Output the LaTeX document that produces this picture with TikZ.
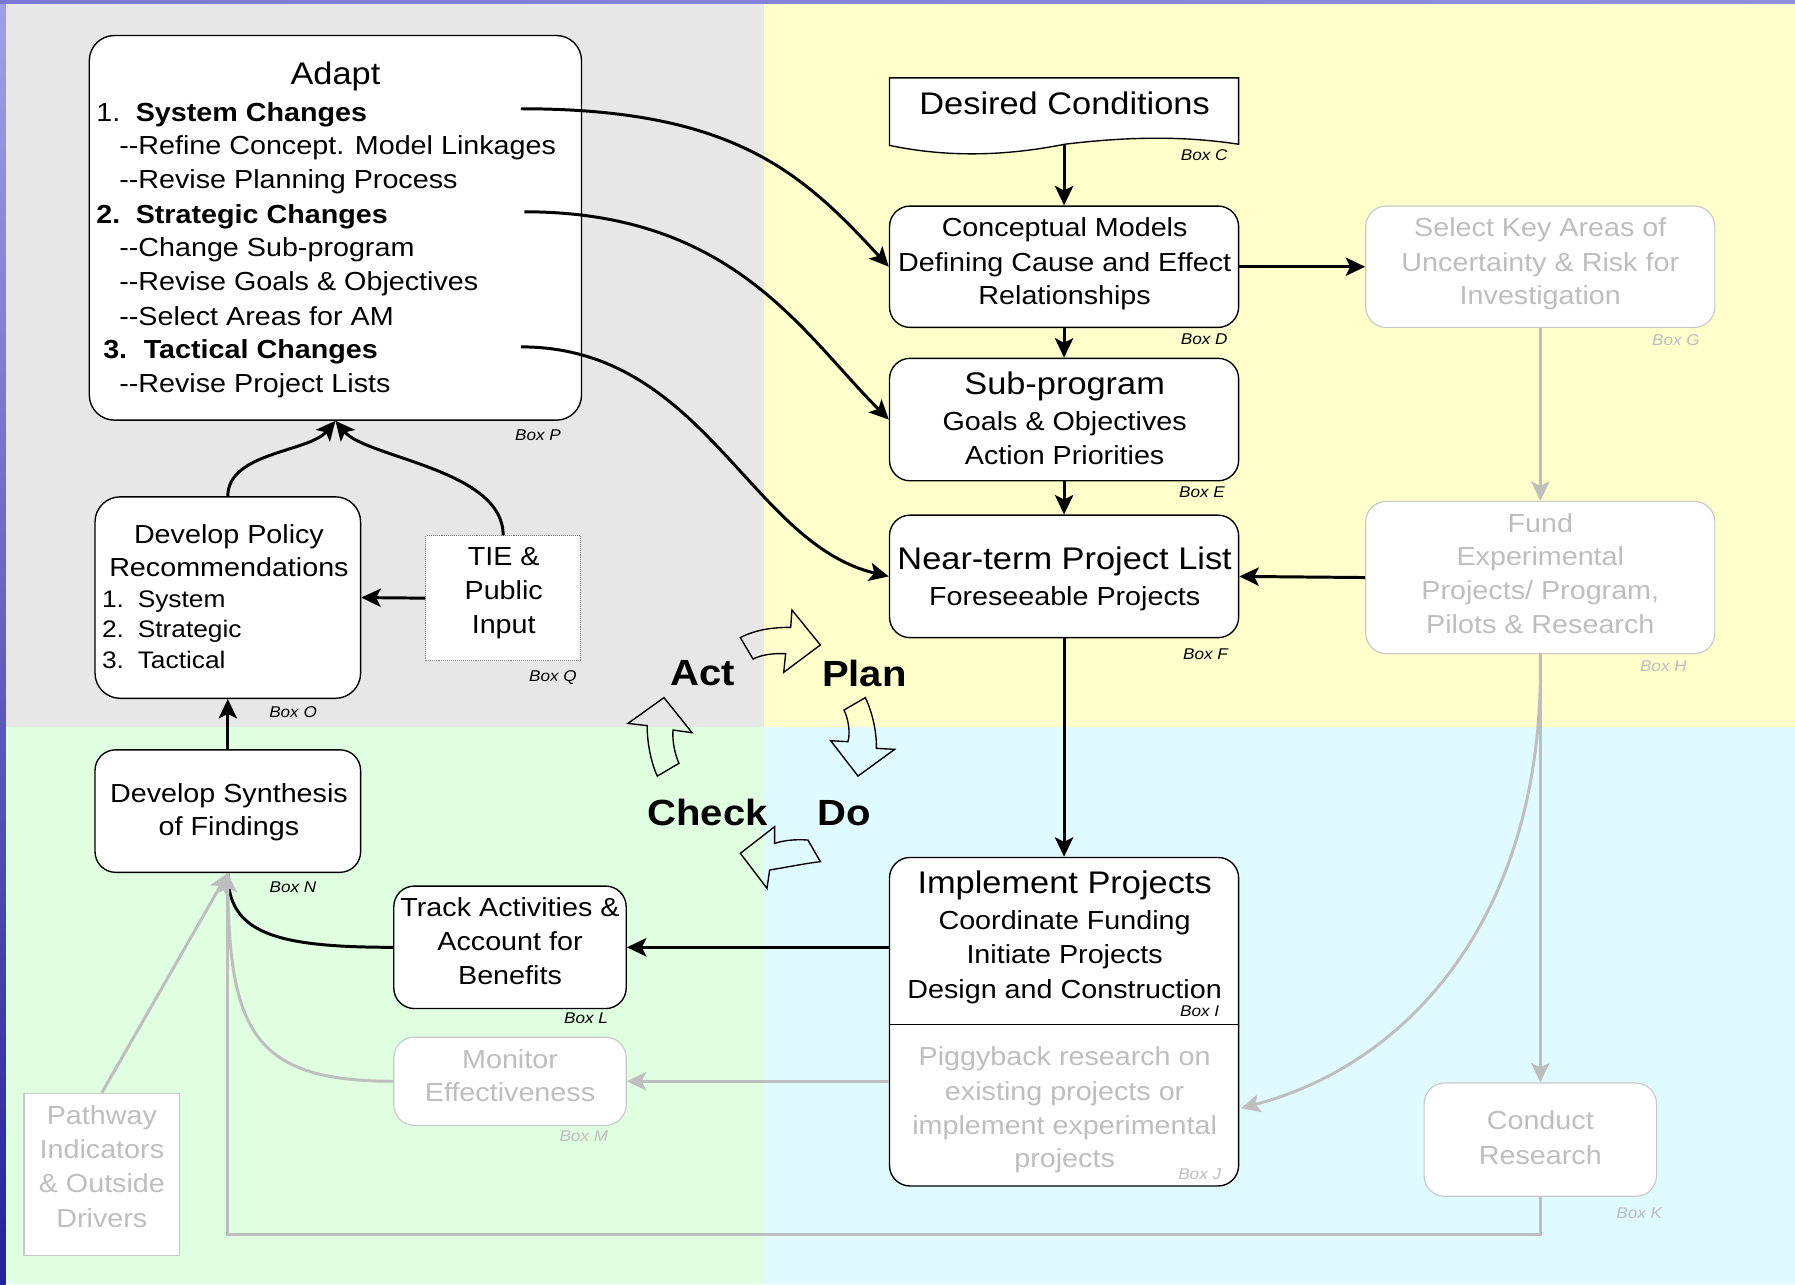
\documentclass[tikz,border=0pt]{standalone}
\usepackage{fontspec}
\setmainfont{Liberation Sans}[FakeStretch=1.1]
\usetikzlibrary{arrows.meta}
\definecolor{bgGray}{HTML}{E7E7E7}
\definecolor{bgYel}{HTML}{FFFFCC}
\definecolor{bgGrn}{HTML}{E0FFE0}
\definecolor{bgCyan}{HTML}{E0FBFF}
\definecolor{lgray}{HTML}{BEBEBE}
\definecolor{lborder}{HTML}{C8C8C8}
\definecolor{stripTop}{HTML}{A0A0E8}
\definecolor{stripBot}{HTML}{22229C}
\definecolor{topStripL}{HTML}{7A7AD6}
\definecolor{topStripR}{HTML}{9090DE}
\newcommand\ftA{\fontsize{22.8}{29.7}\selectfont}
\newcommand\ftT{\fontsize{27.3}{30}\selectfont}
\newcommand\ftS{\fontsize{20.9}{27}\selectfont}
\newcommand\ftB{\itshape\fontsize{13.6}{15}\selectfont}
\newcommand\ftP{\bfseries\fontsize{31.8}{35}\selectfont}
\tikzset{
  box/.style={draw=black, line width=1.2pt, fill=white, rounded corners=18pt, inner sep=0pt},
  gbox/.style={draw=lborder, line width=1pt, fill=white, rounded corners=18pt, inner sep=0pt},
  tx/.style={inner sep=0pt, anchor=base, font=\ftA},
  txl/.style={tx, anchor=base west},
  ttl/.style={inner sep=0pt, anchor=base, font=\ftT},
  gtx/.style={tx, text=lgray},
  blbl/.style={inner sep=0pt, anchor=base, font=\ftB},
  gblbl/.style={blbl, text=lgray},
  conn/.style={line width=2.6pt, -{Stealth[length=17pt,width=16pt,inset=4pt]}},
  gconn/.style={conn, draw=lgray},
  gline/.style={line width=2.6pt, draw=lgray},
  bline/.style={line width=2.6pt},
  pdca/.style={draw=black, line width=1.2pt, line join=miter},
  pd/.style={font=\ftP, inner sep=0pt}
}
\begin{document}
\begin{tikzpicture}[x=1pt,y=-1pt]
\useasboundingbox (0,0) rectangle (1568,1122);
% background quadrants
\fill[bgGray] (0,0) rectangle (667,635);
\fill[bgYel] (667,0) rectangle (1568,635);
\fill[bgGrn] (0,635) rectangle (667,1122);
\fill[bgCyan] (667,635) rectangle (1568,1122);
\shade[top color=stripTop, bottom color=stripBot] (0,0) rectangle (5,1122);
\shade[left color=topStripL, right color=topStripR] (0,0) rectangle (1568,3);

% ---------- Box P (Adapt)
\node[box, rounded corners=22pt, minimum width=430pt, minimum height=336pt] (P) at (293,199) {};
\node[ttl] (Pt) at (293,73.6) {Adapt};
\node[txl] (P1) at (84,106) {1.\hspace*{13.5pt}\textbf{System Changes}};
\node[txl] (P2) at (104,135) {-{}-Refine Concept. Model Linkages};
\node[txl] (P3) at (104,165) {-{}-Revise Planning Process};
\node[txl] (P4) at (84,195) {\textbf{2.\hspace*{13.5pt}Strategic Changes}};
\node[txl] (P5) at (104,224) {-{}-Change Sub-program};
\node[txl] (P6) at (104,254) {-{}-Revise Goals \& Objectives};
\node[txl] (P7) at (104,284) {-{}-Select Areas for AM};
\node[txl] (P8) at (90,313) {\textbf{3.\hspace*{14.5pt}Tactical Changes}};
\node[txl] (P9) at (104,343) {-{}-Revise Project Lists};
\node[blbl] (Pl) at (470,385) {Box P};
\coordinate (p1) at (455,95);
\coordinate (p2) at (458,185);
\coordinate (p3) at (455,303);

% ---------- Box O
\node[box, rounded corners=22pt, minimum width=232pt, minimum height=176pt] (O) at (199,522) {};
\node[tx] (O1) at (200,475) {Develop Policy};
\node[tx] (O2) at (200,504) {Recommendations};
\node[txl, font=\ftS] (O3) at (89,531) {1.\hspace*{12pt}System};
\node[txl, font=\ftS] (O4) at (89,557.3) {2.\hspace*{12pt}Strategic};
\node[txl, font=\ftS] (O5) at (89,584) {3.\hspace*{12pt}Tactical};
\node[blbl] (Ol) at (256,627) {Box O};

% ---------- Box Q
\node[draw=black!50, densely dotted, line width=0.7pt, fill=white, minimum width=135pt, minimum height=109pt, inner sep=0pt] (Q) at (439.5,522.5) {};
\node[tx] (Q1) at (440,494) {TIE \&};
\node[tx] (Q2) at (440,524) {Public};
\node[tx] (Q3) at (440,553) {Input};
\node[blbl] (Ql) at (483,595) {Box Q};

% ---------- Box N
\node[box, minimum width=232pt, minimum height=107pt] (N) at (199,708.5) {};
\node[tx] (N1) at (200,701) {Develop Synthesis};
\node[tx] (N2) at (200,730) {of Findings};
\node[blbl] (Nl) at (256,780) {Box N};

% ---------- Box L
\node[box, minimum width=203pt, minimum height=107pt] (L) at (445.5,827.5) {};
\node[tx] (L1) at (445.5,801) {Track Activities \&};
\node[tx] (L2) at (445.5,830) {Account for};
\node[tx] (L3) at (445.5,860) {Benefits};
\node[blbl] (Ll) at (512,894) {Box L};

% ---------- Box M
\node[gbox, minimum width=203pt, minimum height=77pt] (M) at (445.5,944.5) {};
\node[gtx] (M1) at (445.5,933) {Monitor};
\node[gtx] (M2) at (445.5,962) {Effectiveness};
\node[gblbl] (Ml) at (510,997) {Box M};

% ---------- Pathway
\node[draw=lborder, line width=1pt, fill=white, minimum width=136pt, minimum height=142pt, inner sep=0pt] (PW) at (89,1026) {};
\node[gtx] (PW1) at (89,982) {Pathway};
\node[gtx] (PW2) at (89,1012) {Indicators};
\node[gtx] (PW3) at (89,1042) {\& Outside};
\node[gtx] (PW4) at (89,1072) {Drivers};

% ---------- Box C (document shape)
\draw[line width=1.2pt, fill=white] (777,68) -- (1082,68) -- (1082,126)
  .. controls (1030,118) and (980,120) .. (930,126)
  .. controls (870,138) and (820,136) .. (777,127) -- cycle;
\node[ttl] (C) at (930,99.6) {Desired Conditions};
\node[blbl] (Cl) at (1052,140) {Box C};
\coordinate (Cb) at (929.5,126);

% ---------- Box D
\node[box, minimum width=305pt, minimum height=106pt] (D) at (929.5,233) {};
\node[tx] (D1) at (930,207) {Conceptual Models};
\node[tx] (D2) at (930,237) {Defining Cause and Effect};
\node[tx] (D3) at (930,266) {Relationships};
\node[blbl] (Dl) at (1052,301) {Box D};

% ---------- Box E
\node[box, minimum width=305pt, minimum height=107pt] (E) at (929.5,366.5) {};
\node[ttl] (E1) at (930,344.2) {Sub-program};
\node[tx] (E2) at (930,376.2) {Goals \& Objectives};
\node[tx] (E3) at (930,405.9) {Action Priorities};
\node[blbl] (El) at (1050,435) {Box E};

% ---------- Box F
\node[box, minimum width=305pt, minimum height=107pt] (F) at (929.5,503.5) {};
\node[ttl] (F1) at (930,497.6) {Near-term Project List};
\node[tx] (F2) at (930,529) {Foreseeable Projects};
\node[blbl] (Fl) at (1053,576) {Box F};

% ---------- Box I / J
\node[box, minimum width=305pt, minimum height=287pt] (IJ) at (929.5,892.5) {};
\draw[line width=1.5pt] (777,895) -- (1082,895);
\node[ttl] (I1) at (930,780.6) {Implement Projects};
\node[tx] (I2) at (930,812) {Coordinate Funding};
\node[tx] (I3) at (930,842) {Initiate Projects};
\node[tx] (I4) at (930,872) {Design and Construction};
\node[blbl] (Il) at (1048,888) {Box I};
\node[gtx] (J1) at (930,931) {Piggyback research on};
\node[gtx] (J2) at (930,961) {existing projects or};
\node[gtx] (J3) at (930,991) {implement experimental};
\node[gtx] (J4) at (930,1020) {projects};
\node[gblbl] (Jl) at (1048,1030) {Box J};
\coordinate (Iw) at (777,827.5);
\coordinate (Jw) at (777,944.5);
\coordinate (Je) at (1084,968);

% ---------- Box G
\node[gbox, minimum width=305pt, minimum height=106pt] (G) at (1345.5,233) {};
\node[gtx] (G1) at (1345.5,207) {Select Key Areas of};
\node[gtx] (G2) at (1345.5,237) {Uncertainty \& Risk for};
\node[gtx] (G3) at (1345.5,266) {Investigation};
\node[gblbl] (Gl) at (1464,302) {Box G};

% ---------- Box H
\node[gbox, minimum width=305pt, minimum height=133pt] (H) at (1345.5,504.5) {};
\node[gtx] (H1) at (1345.5,465) {Fund};
\node[gtx] (H2) at (1345.5,494) {Experimental};
\node[gtx] (H3) at (1345.5,524) {Projects/ Program,};
\node[gtx] (H4) at (1345.5,553) {Pilots \& Research};
\node[gblbl] (Hl) at (1453,587) {Box H};

% ---------- Box K
\node[gbox, minimum width=203pt, minimum height=99pt] (K) at (1345.5,995.5) {};
\node[gtx] (K1) at (1345.5,987) {Conduct};
\node[gtx] (K2) at (1345.5,1017) {Research};
\node[gblbl] (Kl) at (1432,1064) {Box K};

% ---------- black connectors
\draw[conn] (Cb) -- (D.north);
\draw[conn] (D.south) -- (E.north);
\draw[conn] (E.south) -- (F.north);
\draw[conn] (F.south) -- (IJ.north);
\draw[conn] (D.east) -- (G.west);
\draw[conn] (H.west) -- (F.east);
\draw[conn] (Q.west) -- (O.east);
\draw[conn] (N.north) -- (O.south);
\draw[conn] (Iw) -- (L.east);
\draw[conn] (p1) .. controls (640,95) and (700,150) .. (D.west);
\draw[conn] (p2) .. controls (640,185) and (700,290) .. (E.west);
\draw[conn] (p3) .. controls (615,303) and (655,475) .. (F.west);
\draw[conn] (O.north) .. controls (199,395) and (270,395) .. (P.south);
\draw[conn] (Q.north) .. controls (440,410) and (320,400) .. (P.south);
\draw[bline] (L.west) .. controls (240,827.5) and (199,815) .. (N.south);

% ---------- gray connectors
\draw[gconn] (Jw) -- (M.east);
\draw[gconn] (G.south) -- (H.north);
\draw[gconn] (H.south) -- (K.north);
\draw[gconn] (H.south) .. controls (1350,800) and (1230,930) .. (Je);
\draw[gline] (M.west) .. controls (220,944.5) and (199,900) .. (N.south);
\draw[gconn] (PW.north) -- (N.south);
\draw[gconn] (K.south) -- (1345.5,1078) -- (199,1078) -- (N.south);

% ---------- PDCA cycle
\draw[pdca] (646.7,557) .. controls (660,550) and (675,548) .. (690.7,548) -- (691.8,532.9) -- (716.6,563.4) -- (684.6,587.3) -- (686.3,571) .. controls (675,570.5) and (665,572) .. (657.8,575.7) -- cycle;
\draw[pdca] (755.9,609.4) .. controls (762,622) and (766,640) .. (765.5,653.7) -- (781.5,654.6) -- (749.5,677.9) -- (725.6,647) -- (740.7,647.9) .. controls (743,640) and (741,628) .. (737.3,620.2) -- cycle;
\draw[pdca] (705.8,733.8) .. controls (695,733) and (685,734) .. (676.7,736.7) -- (676.7,722.1) -- (646.7,745.4) -- (670,776) -- (672.3,760) .. controls (690,757) and (705,754) .. (716.6,752.7) -- cycle;
\draw[pdca] (574.2,677.9) .. controls (568,665) and (565,645) .. (565.4,633.9) -- (548.6,631.9) -- (580,609.4) -- (604.5,640) -- (587.9,637.7) .. controls (587,648) and (590,660) .. (593.1,666.8) -- cycle;
\node[pd] (act) at (614,588) {Act};
\node[pd] (plan) at (755,588) {Plan};
\node[pd] (check) at (618,710) {Check};
\node[pd] (do) at (737.5,710) {Do};
\end{tikzpicture}
\end{document}
